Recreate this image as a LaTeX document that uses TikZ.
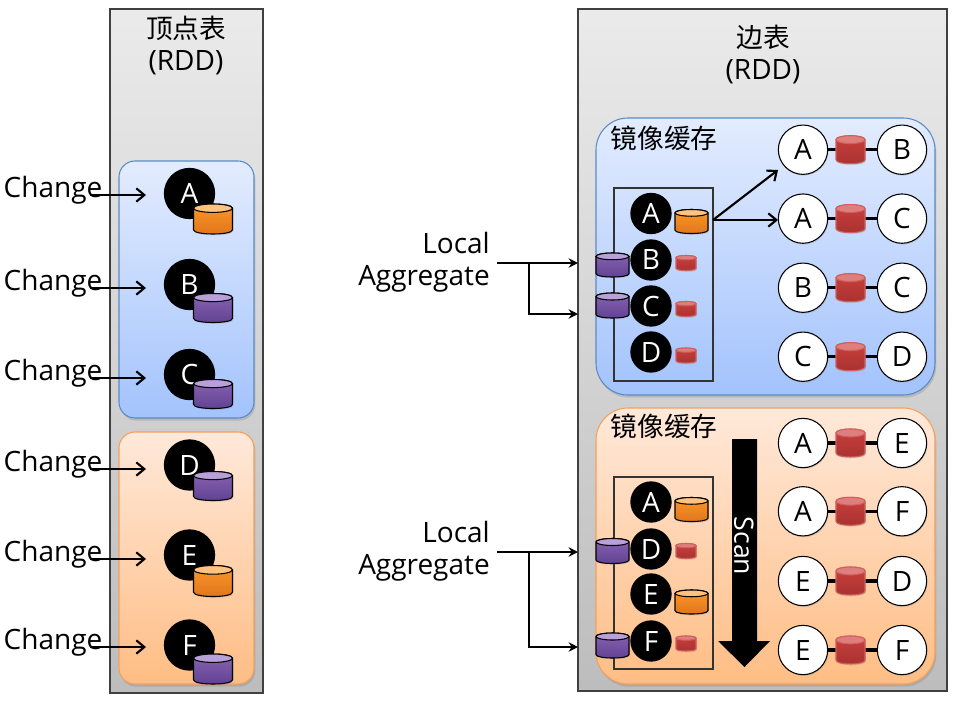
\documentclass[tikz,border=0pt]{standalone}
\usepackage{fontspec}
\setmainfont{Open Sans}
\newfontfamily\cjk{Noto Sans CJK SC}
\usetikzlibrary{arrows.meta,shadows}
% Cylinder: name, centre x, centre y, width, height, rim colour, body top, body bottom, outline
\newcommand{\cylinderat}[9]{%
  \coordinate (#1) at (#2,#3);
  \begin{scope}[shift={(#2,#3)}]
    \pgfmathsetmacro{\hw}{#4/2}
    \pgfmathsetmacro{\hh}{#5/2}
    \pgfmathsetmacro{\ee}{#5*0.14}
    \pgfmathsetmacro{\cc}{\ee*1.333}
    \path[drop shadow={opacity=.25,shadow xshift=.6pt,shadow yshift=-1pt},
      top color=#7,bottom color=#8,draw=#9,line width=.8pt]
      (-\hw,-\hh+\ee) -- (-\hw,\hh-\ee)
      .. controls (-\hw,\hh-\ee+\cc) and (\hw,\hh-\ee+\cc) .. (\hw,\hh-\ee)
      -- (\hw,-\hh+\ee)
      .. controls (\hw,-\hh+\ee-\cc) and (-\hw,-\hh+\ee-\cc) .. cycle;
    \path[fill=#6,draw=#9,line width=.8pt] (0,-\hh+\ee) ellipse [x radius=\hw,y radius=\ee];
  \end{scope}}
\newcommand{\orangecyl}[5]{\cylinderat{#1}{#2}{#3}{#4}{#5}{rimO}{bodyOa}{bodyOb}{black}}
\newcommand{\purplecyl}[5]{\cylinderat{#1}{#2}{#3}{#4}{#5}{rimP}{bodyPa}{bodyPb}{black}}
\newcommand{\redcyl}[5]{\cylinderat{#1}{#2}{#3}{#4}{#5}{rimR}{bodyRa}{bodyRb}{edgeR}}
% One edge of the table: two white vertices joined through a red cylinder
\newcommand{\edgerow}[4]{%
  \node[whitedot] (#1l) at (803,#2) {#3};
  \node[whitedot] (#1r) at (902,#2) {#4};
  \draw[edgelink] (#1l) -- (#1r);
  \redcyl{#1c}{850.5}{#2}{29}{28}}
\definecolor{rimO}{HTML}{FFC27F}
\definecolor{bodyOa}{HTML}{FC9A2C}
\definecolor{bodyOb}{HTML}{E0741A}
\definecolor{rimP}{HTML}{B9A0D8}
\definecolor{bodyPa}{HTML}{8A66B4}
\definecolor{bodyPb}{HTML}{5F4090}
\definecolor{rimR}{HTML}{DF7F7D}
\definecolor{bodyRa}{HTML}{CC403D}
\definecolor{bodyRb}{HTML}{A63230}
\definecolor{edgeR}{HTML}{D0605E}
\tikzset{
  panel/.style={draw=black!75,line width=1.1pt,top color=black!8,bottom color=black!26,
    drop shadow={opacity=.35,shadow xshift=1pt,shadow yshift=-1pt}},
  bluebox/.style={draw=blue!40!cyan!40!black!70,draw=boxB,line width=.8pt,top color=boxBa,bottom color=boxBb,rounded corners=#1,
    drop shadow={opacity=.3,shadow xshift=1pt,shadow yshift=-2pt}},
  orangebox/.style={draw=boxO,line width=.8pt,top color=boxOa,bottom color=boxOb,rounded corners=#1,
    drop shadow={opacity=.3,shadow xshift=1pt,shadow yshift=-2pt}},
  inner/.style={draw=black!80,line width=.8pt},
  label/.style={font=\fontsize{21}{24}\selectfont,inner sep=0pt},
  zhlabel/.style={font=\fontsize{20}{24}\selectfont\cjk,inner sep=0pt},
  bigdot/.style={circle,fill=black,text=white,minimum size=38.5pt,inner sep=0pt,font=\fontsize{21}{24}\selectfont},
  smalldot/.style={circle,fill=black,text=white,minimum size=31pt,inner sep=0pt,font=\fontsize{21}{24}\selectfont},
  whitedot/.style={circle,draw=black,line width=.8pt,fill=white,text=black,minimum size=37pt,inner sep=0pt,
    font=\fontsize{21}{24}\selectfont,drop shadow={opacity=.25,shadow xshift=.6pt,shadow yshift=-1pt}},
  edgelink/.style={line width=2.4pt,black},
  changearrow/.style={line width=1.6pt,-{Straight Barb[length=6pt,width=10pt,line width=1.6pt]}},
  feedarrow/.style={line width=1.4pt,-{Stealth[length=7pt,width=7pt]}},
  scatter/.style={line width=1.6pt,-{Straight Barb[length=6pt,width=10pt,line width=1.6pt]}},
}
\definecolor{boxB}{HTML}{5B8BC4}
\definecolor{boxBa}{HTML}{E3ECFE}
\definecolor{boxBb}{HTML}{A3C3FD}
\definecolor{boxO}{HTML}{F5A05A}
\definecolor{boxOa}{HTML}{FFE9DA}
\definecolor{boxOb}{HTML}{FFBD84}
\begin{document}
\begin{tikzpicture}[x=0.75pt,y=-0.75pt]
\useasboundingbox (0,0) rectangle (956,700);

% Vertex table
\path[panel] (110,9) rectangle (263,693);
\node[label,align=center] (vtitle) at (186,46) {{\fontsize{20}{24}\selectfont\cjk 顶点表}\\(RDD)};
\path[bluebox=12pt] (119,161) rectangle (254,418);
\path[orangebox=12pt] (119,432) rectangle (254,684);

\node[bigdot] (vA) at (189.5,193.5) {A};
\orangecyl{vAc}{213}{219}{39}{30}
\node[bigdot] (vB) at (189.5,284.5) {B};
\purplecyl{vBc}{213}{308}{39}{29}
\node[bigdot] (vC) at (189.5,374.5) {C};
\purplecyl{vCc}{213}{394}{39}{29}
\node[bigdot] (vD) at (189.5,465) {D};
\purplecyl{vDc}{213}{486}{39}{29}
\node[bigdot] (vE) at (189.5,555) {E};
\orangecyl{vEc}{213}{581}{39}{31}
\node[bigdot] (vF) at (189.5,645) {F};
\purplecyl{vFc}{213}{669}{39}{30}

\foreach \nm/\ly/\ay in {a/190/195,b/283/288,c/373/378,d/464/469,e/554/559,f/642/647}{
  \node[label] (ch\nm) at (53,\ly) {Change};
  \coordinate (cs\nm) at (90,\ay);
  \coordinate (ce\nm) at (146,\ay);
  \draw[changearrow] (cs\nm) -- (ce\nm);
}

% Edge table
\path[panel] (578,9) rectangle (947,691);
\node[label,align=center] (etitle) at (763,55) {{\fontsize{20}{24}\selectfont\cjk 边表}\\(RDD)};
\path[bluebox=24pt] (596,118) rectangle (935,395);
\path[orangebox=24pt] (596,408) rectangle (935,684);
\node[zhlabel] (cacheA) at (664,138) {镜像缓存};
\node[zhlabel] (cacheB) at (664,426) {镜像缓存};

% Upper mirror cache
\node[inner,draw,minimum width=74.25pt,minimum height=144.75pt,inner sep=0pt] (boxA) at (663.5,284.5) {};
\node[smalldot] (uA) at (651,213.5) {A};
\node[smalldot] (uB) at (651,260) {B};
\node[smalldot] (uC) at (651,306) {C};
\node[smalldot] (uD) at (651,352) {D};
\orangecyl{uAc}{691.5}{221.5}{33}{24}
\purplecyl{uBc}{612.5}{265}{33}{24}
\purplecyl{uCc}{612.5}{305.5}{33}{25}
\redcyl{uBr}{686}{263}{20}{15}
\redcyl{uCr}{686}{309}{20}{15}
\redcyl{uDr}{686}{355.5}{20}{15}

\edgerow{ab}{149.7}{A}{B}
\edgerow{ac}{218.6}{A}{C}
\edgerow{bc}{287.7}{B}{C}
\edgerow{cd}{356.7}{C}{D}

\coordinate (fan) at (713,220);
\coordinate (fanA) at (778,170);
\coordinate (fanB) at (778,220);
\draw[scatter] (fan) -- (fanA);
\draw[scatter] (fan) -- (fanB);

% Lower mirror cache
\node[inner,draw,minimum width=74.25pt,minimum height=144pt,inner sep=0pt] (boxB) at (663.5,573) {};
\node[smalldot] (lA) at (651,502) {A};
\node[smalldot] (lD) at (651,549) {D};
\node[smalldot] (lE) at (651,594) {E};
\node[smalldot] (lF) at (651,641) {F};
\orangecyl{lAc}{691.5}{509.5}{33}{24}
\purplecyl{lDc}{612.5}{551}{33}{25}
\orangecyl{lEc}{691.5}{602}{33}{24}
\purplecyl{lFc}{612.5}{645.5}{33}{25}
\redcyl{lDr}{686}{551}{20}{15}
\redcyl{lFr}{686}{643.5}{20}{15}

\edgerow{ae}{443}{A}{E}
\edgerow{af}{511.3}{A}{F}
\edgerow{ed}{581}{E}{D}
\edgerow{ef}{650}{E}{F}

% Scan direction
\fill[black] (732,439) -- (757,439) -- (757,641) -- (770,641) -- (744.5,667) -- (718,641) -- (732,641) -- cycle;
\node[label,text=white,rotate=270,font=\fontsize{20}{24}\selectfont] (scan) at (744,546) {Scan};

% Local aggregation inputs
\node[label,align=right,anchor=east] (aggA) at (490,262) {Local\\Aggregate};
\node[label,align=right,anchor=east] (aggB) at (490,551) {Local\\Aggregate};

\coordinate (aA) at (497,263);
\coordinate (aAb) at (529,263);
\coordinate (aA1) at (578,263);
\coordinate (aA2) at (578,314);
\draw[feedarrow] (aA) -- (aA1);
\draw[feedarrow] (aAb) |- (aA2);

\coordinate (aB) at (497,552);
\coordinate (aBb) at (529,552);
\coordinate (aB1) at (578,552);
\coordinate (aB2) at (578,647);
\draw[feedarrow] (aB) -- (aB1);
\draw[feedarrow] (aBb) |- (aB2);
\end{tikzpicture}
\end{document}
